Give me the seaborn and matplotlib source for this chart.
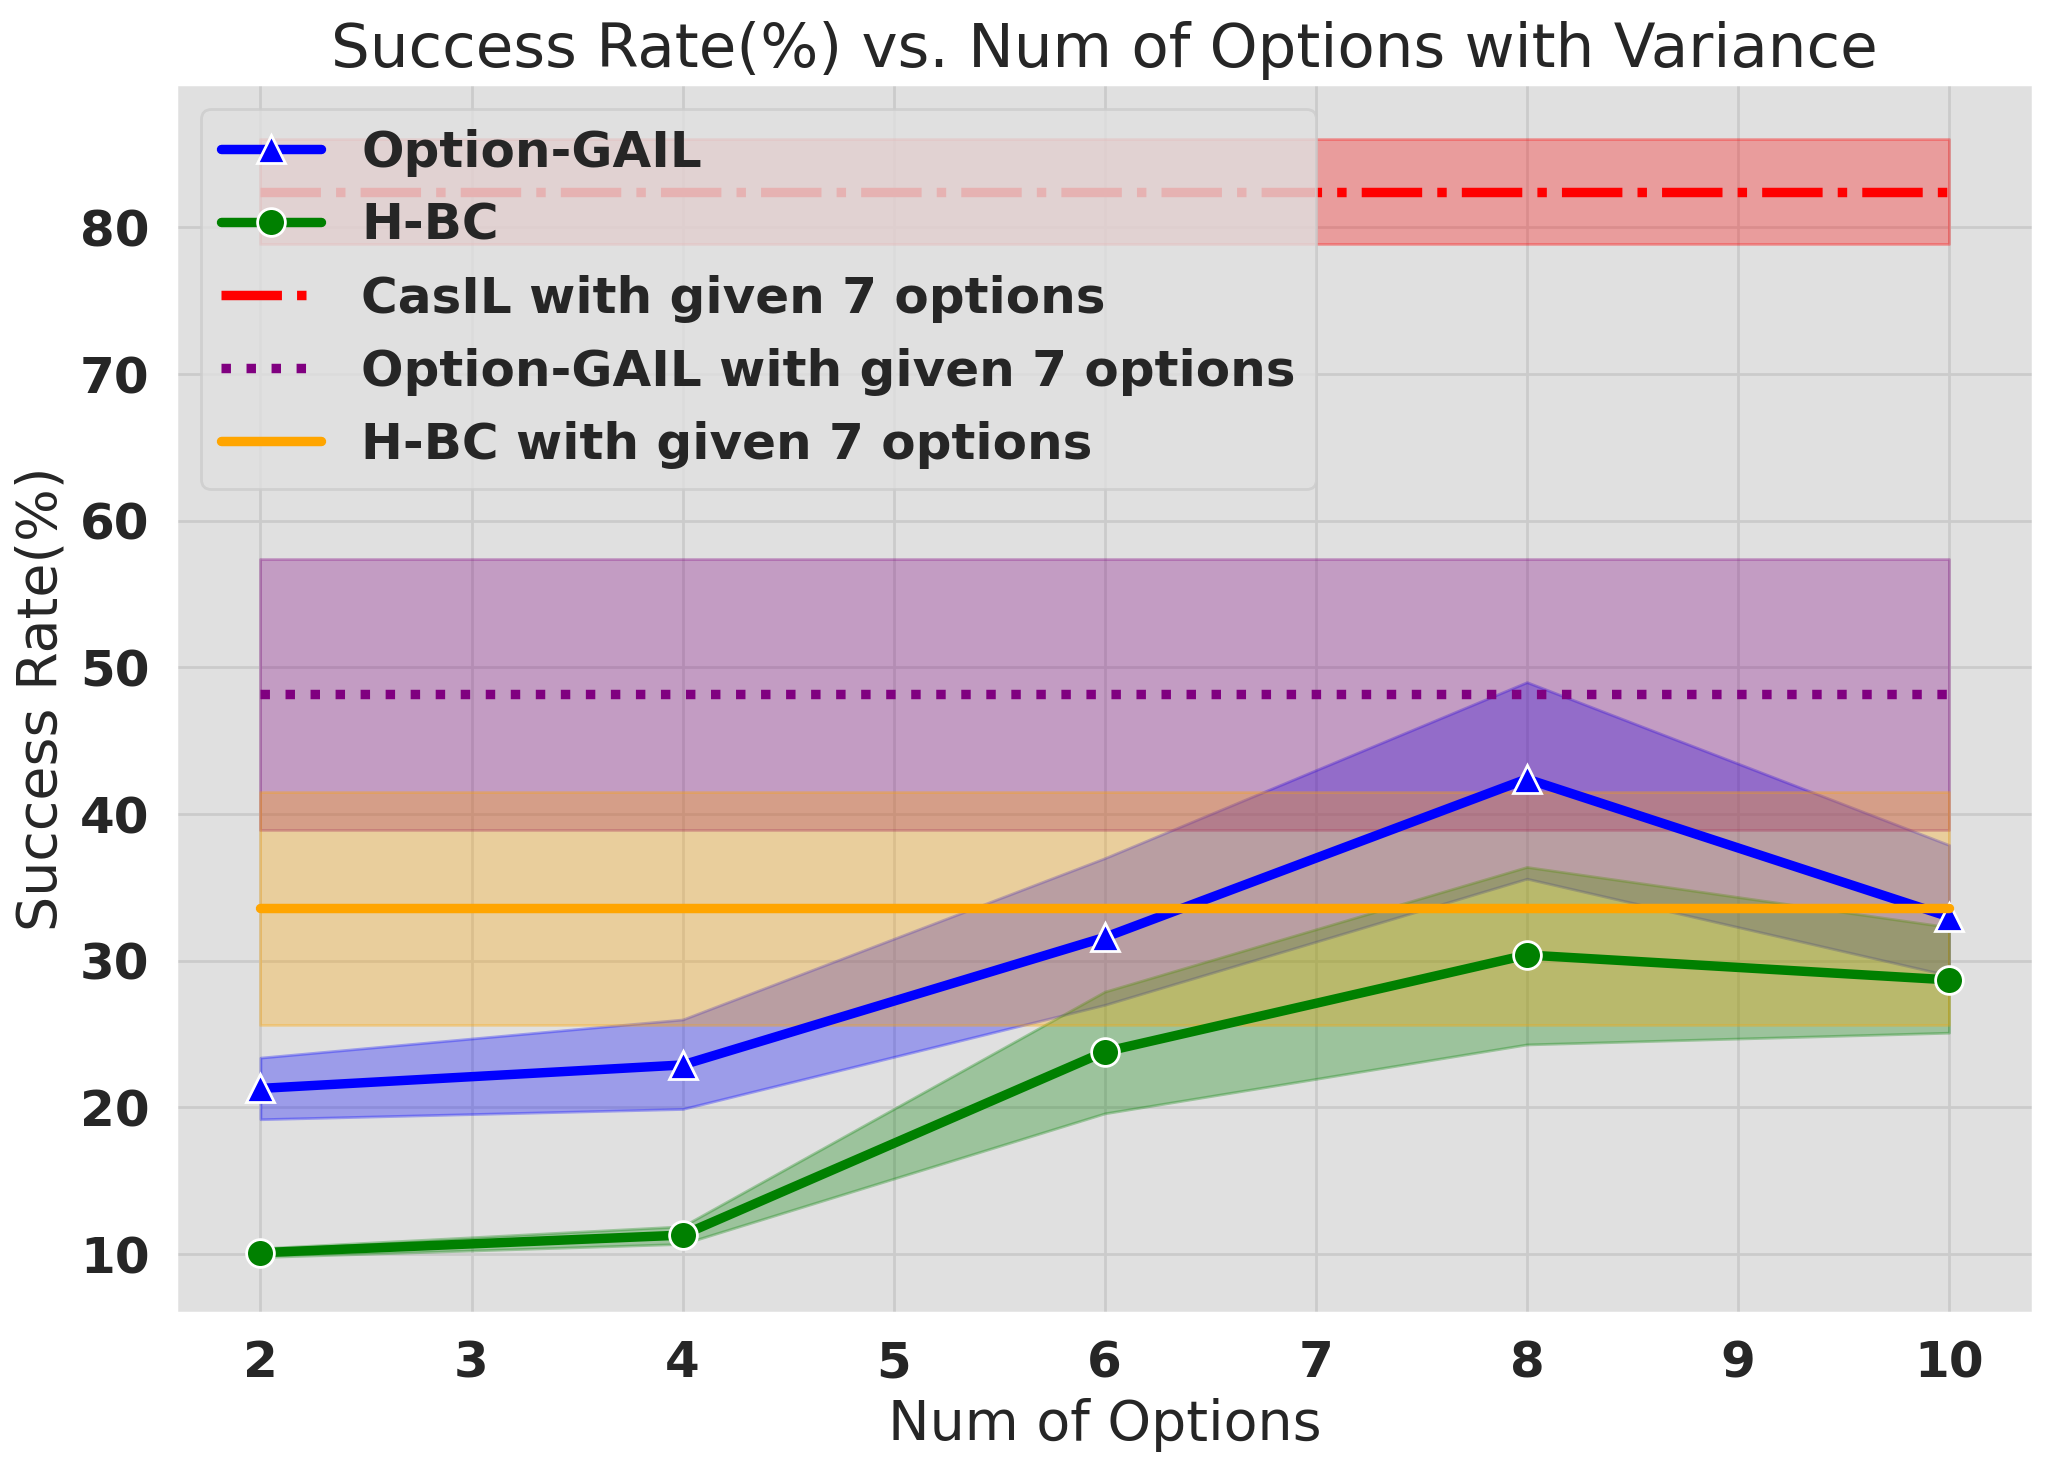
"""
Success rate vs. number of options, with variance bands.
"""

import matplotlib
matplotlib.use("Agg")
import matplotlib.pyplot as plt
import seaborn as sns

sns.set_theme(style="darkgrid", rc={"axes.facecolor": "#e0e0e0", "grid.color": "#cbcbcb"})

# ---------------------------------------------------------
# Data
# ---------------------------------------------------------
num_options = [2, 4, 6, 8, 10]

gail_mean = [21.3, 22.9, 31.6, 42.4, 33.0]
gail_low = [19.2, 19.9, 27.0, 35.6, 29.0]
gail_high = [23.4, 26.0, 37.0, 49.0, 37.9]

hbc_mean = [10.1, 11.3, 23.8, 30.4, 28.7]
hbc_low = [9.8, 10.7, 19.6, 24.3, 25.1]
hbc_high = [10.4, 11.9, 27.9, 36.4, 32.3]

casil_given = 82.4
casil_low, casil_high = 78.9, 86.0

gail_given = 48.2
gail_given_low, gail_given_high = 38.9, 57.4

hbc_given = 33.6
hbc_given_low, hbc_given_high = 25.6, 41.5

LW = 3.4

# ---------------------------------------------------------
# Plot
# ---------------------------------------------------------
fig, ax = plt.subplots(figsize=(10.27, 7.335), dpi=200)

sns.lineplot(x=num_options, y=gail_mean, ax=ax, color="blue", marker="^", markersize=10,
             markeredgecolor="white", markeredgewidth=1, linewidth=LW, label="Option-GAIL")
ax.fill_between(num_options, gail_low, gail_high, color="blue", alpha=0.3)

sns.lineplot(x=num_options, y=hbc_mean, ax=ax, color="green", marker="o", markersize=10,
             markeredgecolor="white", markeredgewidth=1, linewidth=LW, label="H-BC")
ax.fill_between(num_options, hbc_low, hbc_high, color="green", alpha=0.3)

x_span = [num_options[0], num_options[-1]]

ax.plot(x_span, [casil_given] * 2, color="red", linestyle="-.", linewidth=LW,
        label="CasIL with given 7 options")
ax.fill_between(x_span, [casil_low] * 2, [casil_high] * 2, color="red", alpha=0.3)

ax.plot(x_span, [gail_given] * 2, color="purple", linestyle=":", linewidth=LW,
        label="Option-GAIL with given 7 options")
ax.fill_between(x_span, [gail_given_low] * 2, [gail_given_high] * 2, color="purple", alpha=0.3)

ax.plot(x_span, [hbc_given] * 2, color="orange", linestyle="-", linewidth=LW,
        label="H-BC with given 7 options")
ax.fill_between(x_span, [hbc_given_low] * 2, [hbc_given_high] * 2, color="orange", alpha=0.3)

ax.set_title("Success Rate(%) vs. Num of Options with Variance", fontsize=22)
ax.set_xlabel("Num of Options", fontsize=20)
ax.set_ylabel("Success Rate(%)", fontsize=20)
ax.tick_params(axis="both", labelsize=18)
for lbl in ax.get_xticklabels() + ax.get_yticklabels():
    lbl.set_fontweight("bold")

ax.legend(loc="upper left", prop={"size": 18, "weight": "bold"})

fig.subplots_adjust(left=0.0857, right=0.990, bottom=0.105, top=0.943)
plt.savefig("out.png")
plt.close()
